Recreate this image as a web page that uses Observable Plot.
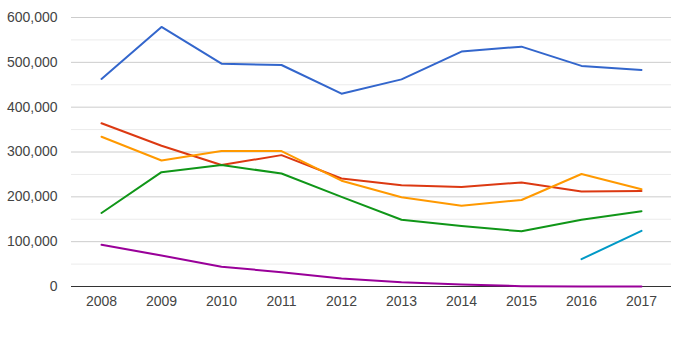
<!DOCTYPE html>
<html>
<head>
<meta charset="utf-8">
<script src="https://cdn.jsdelivr.net/npm/d3@7"></script>
<script src="https://cdn.jsdelivr.net/npm/@observablehq/plot@0.6"></script>
<style>
  html, body { margin: 0; padding: 0; background: #fff; }
  #chart svg { display: block; }
</style>
</head>
<body>
<div id="chart"></div>
<script>
const years = ["2008","2009","2010","2011","2012","2013","2014","2015","2016","2017"];
const seriesNames = ["Series A","Series B","Series C","Series D","Series E","Series F"];
const seriesColors = ["#3366cc","#dc3912","#ff9900","#109618","#990099","#0099c6"];
const seriesAValues = [463000, 579000, 497000, 494000, 430000, 462000, 524000, 535000, 492000, 483000];
const seriesBValues = [364000, 314000, 271000, 293000, 241000, 226000, 222000, 232000, 212000, 213000];
const seriesCValues = [334000, 281000, 302000, 302000, 236000, 199000, 180000, 193000, 251000, 217000];
const seriesDValues = [164000, 255000, 271000, 252000, 200000, 149000, 135000, 123000, 149000, 168000];
const seriesEValues = [93000, 69000, 44000, 32000, 18000, 9600, 4500, 800, 0, 0];
const seriesFValues = [null, null, null, null, null, null, null, null, 61000, 124000];
const yMajorTicks = [0, 100000, 200000, 300000, 400000, 500000, 600000];
const yMinorTicks = [50000, 150000, 250000, 350000, 450000, 550000];

const allValues = [seriesAValues, seriesBValues, seriesCValues, seriesDValues, seriesEValues, seriesFValues];
const data = [];
allValues.forEach((vals, i) => {
  vals.forEach((v, j) => {
    if (v !== null) data.push({series: seriesNames[i], year: years[j], value: v});
  });
});

const font = "'Liberation Sans', Arial, sans-serif";
const chart = Plot.plot({
  width: 693,
  height: 353,
  marginTop: 17,
  marginBottom: 67,
  marginLeft: 71,
  marginRight: 22,
  style: {fontFamily: font, fontSize: "14px", color: "#444", background: "#fff"},
  x: {type: "point", domain: years, padding: 0.5},
  y: {domain: [0, 600000]},
  color: {type: "ordinal", domain: seriesNames, range: seriesColors},
  marks: [
    Plot.gridY(yMinorTicks, {stroke: "#ebebeb", strokeOpacity: 1}),
    Plot.gridY(yMajorTicks.filter(d => d > 0), {stroke: "#cccccc", strokeOpacity: 1}),
    Plot.axisY(yMajorTicks, {tickSize: 0, tickPadding: 14, tickFormat: d => d3.format(",")(d), label: null, fill: "#444", fontSize: 14}),
    Plot.axisX({tickSize: 0, tickPadding: 10, label: null, fill: "#444", fontSize: 14}),
    Plot.ruleY([0], {stroke: "#333", strokeWidth: 1.2}),
    Plot.line(data, {x: "year", y: "value", z: "series", stroke: "series", strokeWidth: 2, curve: "linear"})
  ]
});
document.getElementById("chart").append(chart);
</script>
</body>
</html>
